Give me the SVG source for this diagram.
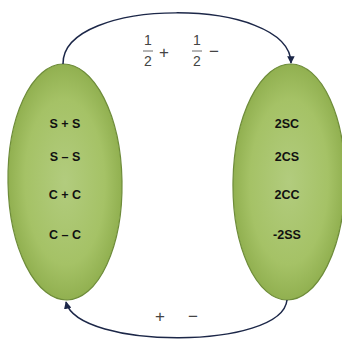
<svg xmlns="http://www.w3.org/2000/svg" width="342" height="340" viewBox="0 0 342 340">
<style>
.node ellipse{fill:url(#g);stroke:#6e8c3a;stroke-width:1.2}
.lbl{font-family:"Liberation Sans",Arial,sans-serif;font-weight:bold;font-size:12.5px;fill:#111;text-anchor:middle}
.m{font-family:"Liberation Sans",sans-serif;font-size:14px;fill:#444;text-anchor:middle}
.op{font-family:"Liberation Sans",sans-serif;font-size:17px;fill:#444;text-anchor:middle}
.conn path{fill:none;stroke:#1c2748;stroke-width:1.5}
</style>
<defs>
<radialGradient id="g" cx="50%" cy="50%" r="50%">
<stop offset="0" stop-color="#b2cc7e"/>
<stop offset="0.7" stop-color="#a5c266"/>
<stop offset="1" stop-color="#91b050"/>
</radialGradient>
<marker id="ah" viewBox="0 0 10 10" refX="9" refY="5" markerWidth="5" markerHeight="5" orient="auto" markerUnits="strokeWidth">
<path d="M0,0 L10,5 L0,10 z" fill="#1c2748"/>
</marker>
</defs>
<rect width="342" height="340" fill="#fff"/>
<g id="left" class="node">
<ellipse cx="65" cy="182" rx="57" ry="118" transform="rotate(-1 65 182)"/>
<text class="lbl" x="65" y="128">S + S</text>
<text class="lbl" x="65" y="161">S – S</text>
<text class="lbl" x="65" y="199">C + C</text>
<text class="lbl" x="65" y="239">C – C</text>
</g>
<g id="right" class="node">
<ellipse cx="289" cy="182" rx="56" ry="118" transform="rotate(1 289 182)"/>
<text class="lbl" x="287" y="128">2SC</text>
<text class="lbl" x="287" y="161">2CS</text>
<text class="lbl" x="287" y="199">2CC</text>
<text class="lbl" x="287" y="239">-2SS</text>
</g>
<g class="conn">
<path d="M63,64 C62,-4 290,-4 291,63" marker-end="url(#ah)"/>
<path d="M287,300 C282,350 78,350 66,302" marker-end="url(#ah)"/>
</g>
<g id="top-label">
<text class="m" x="148" y="45">1</text>
<line x1="143" y1="51" x2="153" y2="51" stroke="#444" stroke-width="0.8"/>
<text class="m" x="148" y="66">2</text>
<text class="op" x="164" y="58">+</text>
<text class="m" x="197" y="45">1</text>
<line x1="192" y1="51" x2="202" y2="51" stroke="#444" stroke-width="0.8"/>
<text class="m" x="197" y="66">2</text>
<text class="op" x="214" y="57">−</text>
</g>
<g id="bottom-label">
<text class="op" x="160" y="322">+</text>
<text class="op" x="193" y="322">−</text>
</g>
</svg>
